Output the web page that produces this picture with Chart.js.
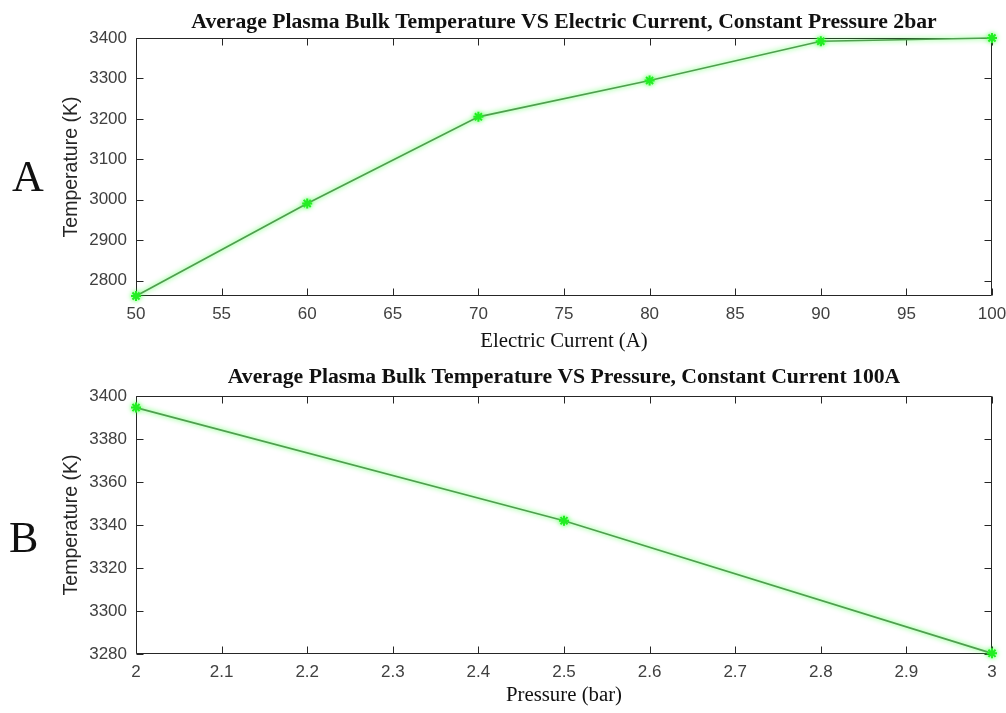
<!DOCTYPE html>
<html><head><meta charset="utf-8">
<script src="https://cdn.jsdelivr.net/npm/chart.js@4"></script>
<style>
html,body{margin:0;padding:0;background:#fff;}
body{width:1006px;height:713px;position:relative;overflow:hidden;}
.wrap{position:absolute;left:0;width:1006px;}
.lbl{position:absolute;font-family:"Liberation Serif","Times New Roman",serif;font-size:44px;color:#111;line-height:1;}
</style></head><body>
<div class="wrap" style="top:0;height:360px"><canvas id="cA"></canvas></div>
<div class="wrap" style="top:355px;height:358px"><canvas id="cB"></canvas></div>
<div class="lbl" style="left:12px;top:155px">A</div>
<div class="lbl" style="left:9px;top:516px">B</div>
<script>
// ---- data ----
const currentA = [50, 60, 70, 80, 90, 100];
const tempA = [2762, 2991, 3205, 3295, 3392, 3400];
const xTicksA = [50, 55, 60, 65, 70, 75, 80, 85, 90, 95, 100];
const yTicksA = [2800, 2900, 3000, 3100, 3200, 3300, 3400];

const pressureB = [2, 2.5, 3];
const tempB = [3394.6, 3342, 3280.3];
const xTicksB = [2, 2.1, 2.2, 2.3, 2.4, 2.5, 2.6, 2.7, 2.8, 2.9, 3];
const yTicksB = [3280, 3300, 3320, 3340, 3360, 3380, 3400];

const titleA = 'Average Plasma Bulk Temperature VS Electric Current, Constant Pressure 2bar';
const titleB = 'Average Plasma Bulk Temperature VS Pressure, Constant Current 100A';
const xLabelA = 'Electric Current (A)';
const xLabelB = 'Pressure (bar)';
const yLabel = 'Temperature (K)';

// ---- styling ----
const SANS = '"Liberation Sans", Arial, sans-serif';
const SERIF = '"Liberation Serif", "Times New Roman", serif';
const AXIS = '#262626';
const TICKTXT = '#404040';

const boxPlugin = {
  id: 'matlabBox',
  beforeDatasetsDraw(chart) {
    const {ctx, chartArea: a, scales: {x, y}} = chart;
    ctx.save();
    ctx.strokeStyle = AXIS;
    ctx.lineWidth = 1;
    ctx.beginPath();
    const L = Math.round(a.left) + 0.5, R = Math.round(a.right) - 0.5;
    const T = Math.round(a.top) + 0.5, B = Math.round(a.bottom) - 0.5;
    ctx.rect(L, T, R - L, B - T);
    const tl = 7;
    x.ticks.forEach(t => {
      const px = Math.round(x.getPixelForValue(t.value)) + 0.5;
      ctx.moveTo(px, B); ctx.lineTo(px, B - tl);
      ctx.moveTo(px, T); ctx.lineTo(px, T + tl);
    });
    y.ticks.forEach(t => {
      const py = Math.round(y.getPixelForValue(t.value)) + 0.5;
      ctx.moveTo(L, py); ctx.lineTo(L + tl, py);
      ctx.moveTo(R, py); ctx.lineTo(R - tl, py);
    });
    ctx.stroke();
    ctx.restore();
  },
  afterDraw(chart, args, opts) {
    const {ctx, chartArea: a} = chart;
    ctx.save();
    ctx.font = 'bold 21.7px ' + SERIF;
    ctx.fillStyle = '#111';
    ctx.textAlign = 'center';
    ctx.textBaseline = 'alphabetic';
    ctx.fillText(opts.text, (a.left + a.right) / 2, a.top - opts.gap);
    ctx.restore();
  }
};

const glowPlugin = {
  id: 'glow',
  beforeDatasetDraw(chart) {
    const ctx = chart.ctx;
    ctx.save();
    ctx.shadowColor = 'rgba(50,255,50,0.9)';
    ctx.shadowBlur = 5;
  },
  afterDatasetDraw(chart) {
    chart.ctx.restore();
  }
};

function fmt(v) { return String(+Number(v).toFixed(3)); }

function makeChart(id, xs, ys, xTicks, yTicks, title, gap, xLabel, opts) {
  const pts = xs.map((v, i) => ({x: v, y: ys[i]}));
  return new Chart(document.getElementById(id), {
    type: 'line',
    data: { datasets: [{
      data: pts,
      borderColor: '#4f9f4f',
      borderWidth: 1.7,
      pointStyle: 'star',
      pointRadius: 5,
      pointBorderWidth: 2,
      pointBorderColor: '#22ee22',
      pointBackgroundColor: '#22ee22',
      tension: 0,
      clip: false
    }]},
    options: {
      responsive: true,
      maintainAspectRatio: false,
      animation: false,
      devicePixelRatio: 1,
      layout: { padding: { left: 0, right: 14, top: opts.top, bottom: 0 } },
      plugins: {
        legend: { display: false },
        tooltip: { enabled: false },
        matlabBox: { text: title, gap: gap }
      },
      scales: {
        x: {
          type: 'linear',
          min: xTicks[0], max: xTicks[xTicks.length - 1],
          afterBuildTicks: s => { s.ticks = xTicks.map(v => ({value: v})); },
          afterFit: s => { s.height = opts.xH; s.paddingLeft = 0; s.paddingRight = 0; },
          grid: { display: false, drawTicks: false },
          border: { display: false },
          ticks: { autoSkip: false, maxRotation: 0, padding: 8, color: TICKTXT,
                   font: { family: SANS, size: 17 }, callback: v => fmt(v) },
          title: { display: true, text: xLabel, color: '#111',
                   font: { family: SERIF, size: 20.8 }, padding: { top: 0, bottom: opts.xPad } }
        },
        y: {
          type: 'linear',
          min: opts.yMin, max: opts.yMax,
          afterBuildTicks: s => { s.ticks = yTicks.map(v => ({value: v})); },
          afterFit: s => { s.width = 136; s.paddingTop = 0; s.paddingBottom = 0; },
          grid: { display: false, drawTicks: false },
          border: { display: false },
          ticks: { padding: 9, color: TICKTXT, font: { family: SANS, size: 17 },
                   callback: v => fmt(v) },
          title: { display: true, text: yLabel, color: '#262626',
                   font: { family: SANS, size: 19.5 }, padding: { top: 60, bottom: 0 } }
        }
      }
    },
    plugins: [boxPlugin, glowPlugin]
  });
}

makeChart('cA', currentA, tempA, xTicksA, yTicksA, titleA, 10, xLabelA,
  { top: 38, xH: 64, xPad: 6.2, yMin: 2762, yMax: 3400 });
makeChart('cB', pressureB, tempB, xTicksB, yTicksB, titleB, 13, xLabelB,
  { top: 41, xH: 59, xPad: 5.2, yMin: 3280, yMax: 3400 });
</script>
</body></html>
